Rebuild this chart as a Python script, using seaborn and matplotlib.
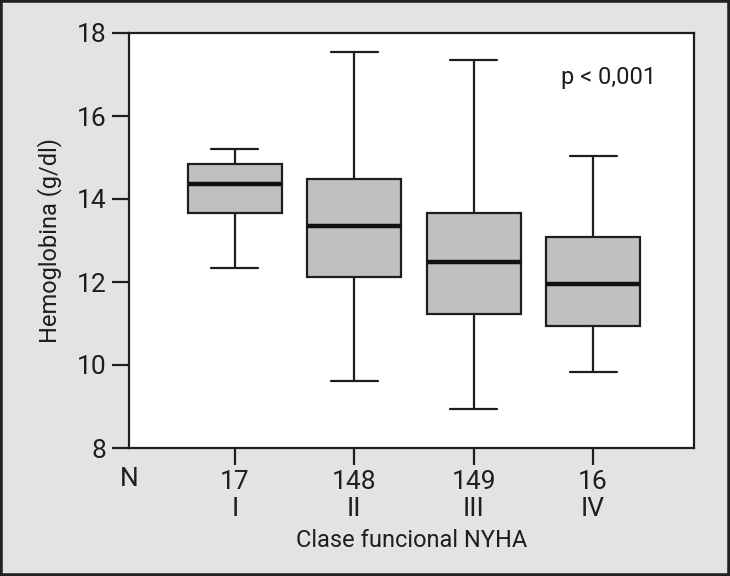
import numpy as np
import pandas as pd
import matplotlib
matplotlib.use("Agg")
import matplotlib.pyplot as plt
import matplotlib.transforms as mtransforms
from matplotlib.patches import Rectangle
import seaborn as sns

# Five-number summaries
classes = ["I", "II", "III", "IV"]
n_counts = ["17", "148", "149", "16"]
whisker_low = [12.33, 9.61, 8.94, 9.83]
q1 = [13.66, 12.13, 11.23, 10.94]
median = [14.35, 13.35, 12.48, 11.95]
q3 = [14.84, 14.49, 13.66, 13.08]
whisker_high = [15.20, 17.54, 17.35, 15.04]
y_ticks = [8, 10, 12, 14, 16, 18]

rows = []
for i, c in enumerate(classes):
    for v in (whisker_low[i], q1[i], median[i], q3[i], whisker_high[i]):
        rows.append({"clase": c, "hb": v})
df = pd.DataFrame(rows)

sns.set_style("ticks")
plt.rcParams["font.family"] = ["Roboto", "DejaVu Sans"]
plt.rcParams["font.weight"] = "normal"
plt.rcParams["font.size"] = 17

fig = plt.figure(figsize=(7.3, 5.76), dpi=100)
fig.patch.set_facecolor("#e3e3e3")
ax = fig.add_axes([129 / 730, 1 - 448 / 576, (694 - 129) / 730, (448 - 33) / 576])
ax.set_facecolor("white")

line_c = "#1e1e1e"
txt_c = "#1e1e1e"
sns.boxplot(data=df, x="clase", y="hb", order=classes, whis=(0, 100),
            width=0.79, color="#c0c0c2", saturation=1, linecolor=line_c,
            linewidth=1.6, medianprops={"linewidth": 3.2, "color": "#111111"},
            ax=ax)

ax.set_ylim(8, 18)
ax.set_xlim(-0.887, 3.845)
ax.set_yticks(y_ticks)
ax.set_yticklabels([str(t) for t in y_ticks], fontsize=19)
ax.set_xticks(range(len(classes)))
ax.set_xticklabels([f"{n}\n{c}" for n, c in zip(n_counts, classes)],
                   fontsize=19, linespacing=1.15)
ax.tick_params(axis="both", direction="out", length=12, width=1.6,
               color=line_c, pad=4, labelcolor=txt_c)
for s in ax.spines.values():
    s.set_linewidth(1.6)
    s.set_color(line_c)

ax.set_xlabel("Clase funcional NYHA", fontsize=17, color=txt_c, labelpad=6)
ax.set_ylabel("Hemoglobina (g/dl)", fontsize=17, color=txt_c, labelpad=11)

trans = mtransforms.blended_transform_factory(ax.transAxes, ax.transAxes)
ax.text(0.0, -0.045, "N", transform=trans, ha="center", va="top",
        fontsize=19, color=txt_c)
ax.text(0.848, 0.892, "p < 0,001", transform=ax.transAxes, ha="center",
        va="center", fontsize=17, color=txt_c)

fig.patches.append(Rectangle((0, 0), 1, 1, transform=fig.transFigure,
                             fill=False, edgecolor="#222222", linewidth=4))

fig.savefig("out.png", dpi=100, facecolor=fig.get_facecolor())
